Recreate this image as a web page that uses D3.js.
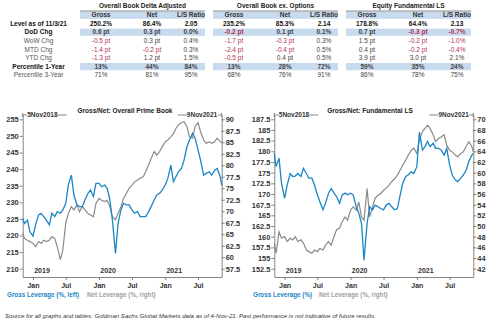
<!DOCTYPE html>
<html>
<head>
<meta charset="utf-8">
<script src="https://cdn.jsdelivr.net/npm/d3@7"></script>
<style>
body { margin: 0; background: #fff; }
svg { font-family: "Liberation Sans", Arial, sans-serif; }
</style>
</head>
<body>
<script>
// ---- table data ----
let groupTitles = ["Overall Book Delta Adjusted", "Overall Book ex. Options", "Equity Fundamental LS"];
let colHeads = ["Gross", "Net", "L/S Ratio"];
let rowLabels = ["Level as of 11/3/21", "DoD Chg", "WoW Chg", "MTD Chg", "YTD Chg", "Percentile 1-Year", "Percentile 3-Year"];

let deltaGross = ["250.2%", "0.6 pt", "-0.5 pt", "-1.4 pt", "-1.3 pt", "13%", "71%"];
let deltaNet   = ["86.4%", "0.3 pt", "0.3 pt", "-0.2 pt", "1.2 pt", "44%", "81%"];
let deltaLS    = ["2.05", "0.0%", "0.4%", "0.3%", "1.5%", "84%", "95%"];
let exOptGross = ["235.2%", "-0.2 pt", "-1.7 pt", "-2.4 pt", "-0.5 pt", "13%", "68%"];
let exOptNet   = ["85.3%", "0.1 pt", "-0.3 pt", "-0.4 pt", "0.4 pt", "28%", "76%"];
let exOptLS    = ["2.14", "0.1%", "0.3%", "0.5%", "0.5%", "72%", "91%"];
let fundGross  = ["178.8%", "0.7 pt", "1.5 pt", "0.4 pt", "3.9 pt", "59%", "86%"];
let fundNet    = ["64.4%", "-0.3 pt", "-0.2 pt", "-0.2 pt", "3.0 pt", "35%", "78%"];
let fundLS     = ["2.13", "-0.7%", "-1.0%", "-0.4%", "2.1%", "24%", "75%"];

// ---- chart data (semi-monthly readings) ----
let dates = [
  "2018-11-05","2018-11-15","2018-12-01","2018-12-15",
  "2019-01-01","2019-01-15","2019-02-01","2019-02-15","2019-03-01","2019-03-15","2019-04-01","2019-04-15",
  "2019-05-01","2019-05-15","2019-06-01","2019-06-15","2019-07-01","2019-07-15","2019-08-01","2019-08-15",
  "2019-09-01","2019-09-15","2019-10-01","2019-10-15","2019-11-01","2019-11-15","2019-12-01","2019-12-15",
  "2020-01-01","2020-01-15","2020-02-01","2020-02-15","2020-03-01","2020-03-15","2020-04-01","2020-04-15",
  "2020-05-01","2020-05-15","2020-06-01","2020-06-15","2020-07-01","2020-07-15","2020-08-01","2020-08-15",
  "2020-09-01","2020-09-15","2020-10-01","2020-10-15","2020-11-01","2020-11-15","2020-12-01","2020-12-15",
  "2021-01-01","2021-01-15","2021-02-01","2021-02-15","2021-03-01","2021-03-15","2021-04-01","2021-04-15",
  "2021-05-01","2021-05-15","2021-06-01","2021-06-15","2021-07-01","2021-07-15","2021-08-01","2021-08-15",
  "2021-09-01","2021-09-15","2021-10-01","2021-10-15","2021-11-01","2021-11-09"
];

let primeGross = [
  225.1,223.6,224.6,221.1,219.8,223.2,226.2,226.7,225.7,224.7,
  223.2,226.7,225.7,227.2,226.7,227.7,229.7,235.2,238.2,232.2,
  229.2,228.7,228.7,230.7,232.7,233.7,231.7,235.7,235.7,234.7,
  235.2,234.2,230.7,224.6,214.6,223.6,227.7,229.7,229.2,229.2,
  227.7,226.7,227.2,225.7,225.7,225.7,227.2,228.7,230.7,232.2,
  232.7,233.7,235.2,237.2,241.2,236.2,237.7,239.2,240.2,242.7,
  246.8,248.8,250.8,249.3,245.8,242.7,238.2,238.7,239.2,238.2,
  239.7,240.2,237.7,235.2
];
let primeNet = [
  65.2,64.1,63.7,63.4,63.0,62.3,63.4,63.0,63.7,63.4,
  63.7,64.5,64.1,62.3,59.5,61.6,67.4,69.5,71.0,70.3,
  71.4,69.9,71.0,70.3,69.5,69.2,68.8,71.7,72.8,72.4,
  72.1,72.4,71.0,68.8,68.1,69.5,71.0,72.8,73.9,75.0,
  75.7,76.4,76.8,77.2,77.5,78.6,80.1,81.5,83.0,82.2,
  83.0,84.0,85.1,85.5,86.2,86.9,88.0,88.8,89.3,89.5,
  88.4,86.2,85.9,88.4,89.3,87.3,85.5,84.8,85.1,84.8,
  85.1,85.9,85.1,85.0
];
let fundLSGross = [
  179.5,176.4,178.4,172.5,169.0,172.1,174.8,174.1,174.2,174.8,
  174.1,176.0,174.8,173.7,173.7,172.1,169.8,168.2,166.3,167.8,
  170.2,171.3,170.2,169.4,167.8,169.8,170.2,169.8,170.2,169.8,
  167.0,165.5,163.1,154.5,163.1,167.0,166.3,167.4,167.0,166.6,
  166.3,167.4,167.8,167.0,166.3,166.6,169.8,172.5,174.1,174.5,
  175.2,174.8,176.4,184.5,180.3,181.1,182.3,181.1,181.9,180.7,
  180.7,180.3,179.1,180.7,176.8,174.5,173.3,172.9,173.7,174.5,
  175.6,177.6,179.1,179.5
];
let fundLSNet = [
  46.8,44.9,48.9,47.7,48.0,47.1,47.7,47.4,48.0,47.1,
  47.4,46.8,45.5,45.2,44.9,45.5,45.2,45.8,45.5,46.4,
  47.1,46.4,48.0,49.3,49.6,50.8,51.7,51.1,53.0,53.6,
  53.0,54.5,51.7,51.1,57.0,51.7,53.6,55.2,55.8,56.1,
  56.7,57.1,57.7,58.3,58.9,59.5,60.5,61.4,62.4,63.3,
  64.2,64.6,63.6,66.1,67.7,68.3,68.9,68.3,67.1,65.8,
  66.4,66.7,67.1,65.2,64.2,63.9,63.3,63.0,63.6,63.9,
  64.9,65.8,64.9,63.9
];

let primeLeftTicks  = [210, 215, 220, 225, 230, 235, 240, 245, 250, 255];
let primeRightTicks = [57.5, 60, 62.5, 65, 67.5, 70, 72.5, 75, 77.5, 80, 82.5, 85, 87.5, 90];
let fundLeftTicks   = [152.5, 155, 157.5, 160, 162.5, 165, 167.5, 170, 172.5, 175, 177.5, 180, 182.5, 185, 187.5];
let fundRightTicks  = [42, 44, 46, 48, 50, 52, 54, 56, 58, 60, 62, 64, 66, 68, 70];
let monthTicks = ["2019-01-01", "2019-07-01", "2020-01-01", "2020-07-01", "2021-01-01", "2021-07-01"];
let yearLabels = ["2019", "2020", "2021"];
let rangeStart = "2018-11-05", rangeEnd = "2021-11-09";

let blue = "#1a86c5", grey = "#8a8a8a", red = "#b2334f", band = "#c8daee";

let svg = d3.select('body').append('svg')
    .attr('width', 500)
    .attr('height', 324);

// ---------- table ----------
let groups = [
    [deltaGross, deltaNet, deltaLS],
    [exOptGross, exOptNet, exOptLS],
    [fundGross, fundNet, fundLS]
];
let groupX = [101, 234, 367],
    colOff = [0, 51, 90],
    rowY = i => 23.6 + i * 8.6,
    boldRows = [0, 1, 5],
    bandRows = [1, 5];

groups.forEach((cols, gi) => {
    let gx = groupX[gi];
    let tg = svg.append('g');
    tg.append('rect').attr('x', gx - 21).attr('y', 11.5).attr('width', 125).attr('height', 7.3).attr('fill', band);
    bandRows.forEach(r => {
        tg.append('rect').attr('x', gx - 21).attr('y', rowY(r) - 3.6).attr('width', 125).attr('height', 7.2).attr('fill', band);
    });
    tg.append('line').attr('x1', gx - 21).attr('x2', gx + 104).attr('y1', 11).attr('y2', 11)
        .attr('stroke', '#444').attr('stroke-width', 0.6);
    tg.append('text').attr('x', gx + 41.5).attr('y', 5.5).attr('dy', '0.35em')
        .attr('text-anchor', 'middle').attr('font-size', 6.5).attr('font-weight', 'bold')
        .attr('fill', '#222').text(groupTitles[gi]);
    colHeads.forEach((h, ci) => {
        tg.append('text').attr('x', gx + colOff[ci]).attr('y', 15.2).attr('dy', '0.35em')
            .attr('text-anchor', 'middle').attr('font-size', 6.5).attr('font-weight', 'bold')
            .attr('fill', '#333').text(h);
    });
    cols.forEach((vals, ci) => {
        tg.selectAll(null).data(vals).enter().append('text')
            .attr('x', gx + colOff[ci])
            .attr('y', (d, i) => rowY(i))
            .attr('dy', '0.35em')
            .attr('text-anchor', 'middle')
            .attr('font-size', 6.5)
            .attr('font-weight', (d, i) => boldRows.includes(i) ? 'bold' : 'normal')
            .attr('fill', d => d.startsWith('-') ? red : (d === vals[0] ? '#111' : '#444'))
            .text(d => d);
    });
});

svg.append('g').selectAll('text').data(rowLabels).enter().append('text')
    .attr('x', 38.5)
    .attr('y', (d, i) => rowY(i))
    .attr('dy', '0.35em')
    .attr('text-anchor', 'middle')
    .attr('font-size', 6.5)
    .attr('font-weight', (d, i) => boldRows.includes(i) ? 'bold' : 'normal')
    .attr('fill', (d, i) => boldRows.includes(i) ? '#111' : '#555')
    .text(d => d);

// ---------- charts ----------
let parse = d3.timeParse('%Y-%m-%d');

function drawChart(c) {
    let top = 115, bottom = 277;
    let g = svg.append('g');

    let x = d3.scaleTime().domain([parse(rangeStart), parse(rangeEnd)]).range([c.x0, c.x1]);
    let yL = d3.scaleLinear().domain(c.leftDomain).range([bottom, top]);
    let yR = d3.scaleLinear().domain(c.rightDomain).range([bottom, top]);

    let leftAxis = g.append('g').attr('transform', `translate(${c.x0},0)`)
        .call(d3.axisLeft(yL).tickValues(c.leftTicks).tickSize(3).tickSizeOuter(0).tickPadding(1).tickFormat(d => d));
    let rightAxis = g.append('g').attr('transform', `translate(${c.x1},0)`)
        .call(d3.axisRight(yR).tickValues(c.rightTicks).tickSize(3).tickSizeOuter(0).tickPadding(1).tickFormat(d => d));
    let bottomAxis = g.append('g').attr('transform', `translate(0,${bottom})`)
        .call(d3.axisBottom(x).tickValues(monthTicks.map(parse)).tickSize(3).tickSizeOuter(0).tickPadding(3)
            .tickFormat(d3.timeFormat('%b')));

    [leftAxis, rightAxis, bottomAxis].forEach(a => {
        a.selectAll('path, line').attr('stroke', '#666').attr('stroke-width', 0.8);
        a.selectAll('text').attr('font-family', '"Liberation Sans", Arial, sans-serif')
            .attr('font-size', 7.4).attr('font-weight', 'bold').attr('fill', '#333');
    });
    bottomAxis.selectAll('text').attr('font-size', 7);

    // year labels inside the plot
    g.selectAll('.yr').data(yearLabels).enter().append('text')
        .attr('x', d => x(parse(d + '-01-01')) + 9)
        .attr('y', bottom - 4)
        .attr('text-anchor', 'middle')
        .attr('font-size', 7).attr('font-weight', 'bold').attr('fill', '#333')
        .text(d => d);

    let pts = dates.map(parse);
    let lineL = d3.line().x((d, i) => x(pts[i])).y(d => yL(d));
    let lineR = d3.line().x((d, i) => x(pts[i])).y(d => yR(d));

    g.append('path').datum(c.net).attr('d', lineR)
        .attr('fill', 'none').attr('stroke', grey).attr('stroke-width', 1.2);
    g.append('path').datum(c.gross).attr('d', lineL)
        .attr('fill', 'none').attr('stroke', blue).attr('stroke-width', 1.3);

    // date range marker on the top edge
    let fmt = d3.timeFormat('%-d%b%Y');
    let mk = g.append('g').attr('stroke', '#555').attr('stroke-width', 0.7);
    mk.append('line').attr('x1', c.x0).attr('x2', c.x0).attr('y1', top - 2).attr('y2', top + 2);
    mk.append('line').attr('x1', c.x0).attr('x2', c.x0 + 4).attr('y1', top).attr('y2', top);
    mk.append('line').attr('x1', c.x0 + 35).attr('x2', c.x0 + 44).attr('y1', top).attr('y2', top);
    mk.append('line').attr('x1', c.x1).attr('x2', c.x1).attr('y1', top - 2).attr('y2', top + 2);
    mk.append('line').attr('x1', c.x1 - 4).attr('x2', c.x1).attr('y1', top).attr('y2', top);
    mk.append('line').attr('x1', c.x1 - 44).attr('x2', c.x1 - 35).attr('y1', top).attr('y2', top);
    g.append('text').attr('x', c.x0 + 4.5).attr('y', top).attr('dy', '0.35em')
        .attr('font-size', 6.5).attr('font-weight', 'bold').attr('fill', '#333')
        .text(fmt(parse(rangeStart)));
    g.append('text').attr('x', c.x1 - 4.5).attr('y', top).attr('dy', '0.35em').attr('text-anchor', 'end')
        .attr('font-size', 6.5).attr('font-weight', 'bold').attr('fill', '#333')
        .text(fmt(parse(rangeEnd)));

    g.append('text').attr('x', c.titleX).attr('y', 110.5).attr('dy', '0.35em').attr('text-anchor', 'middle')
        .attr('font-size', 6.5).attr('font-weight', 'bold').attr('fill', '#222')
        .text(c.title);

    // legend
    g.append('text').attr('x', c.legX[0]).attr('y', 295).attr('dy', '0.35em')
        .attr('font-size', 6.3).attr('font-weight', 'bold').attr('fill', blue).text(c.legend[0]);
    g.append('text').attr('x', c.legX[1]).attr('y', 295).attr('dy', '0.35em')
        .attr('font-size', 6.3).attr('font-weight', 'bold').attr('fill', '#a0a0a0').text(c.legend[1]);
}

drawChart({
    x0: 22.7, x1: 221.7,
    leftDomain: [207.5, 256.3], rightDomain: [55.7, 90.94],
    leftTicks: primeLeftTicks, rightTicks: primeRightTicks,
    gross: primeGross, net: primeNet,
    title: 'Gross/Net: Overall Prime Book', titleX: 125,
    legend: ['Gross Leverage (%, left)', 'Net Leverage (%, right)'], legX: [7, 87]
});

drawChart({
    x0: 274.3, x1: 473.3,
    leftDomain: [150.56, 188.5], rightDomain: [40.44, 70.81],
    leftTicks: fundLeftTicks, rightTicks: fundRightTicks,
    gross: fundLSGross, net: fundLSNet,
    title: 'Gross/Net: Fundamental LS', titleX: 370,
    legend: ['Gross Leverage (%)', 'Net Leverage (%, right)'], legX: [253, 319]
});

svg.append('text').attr('x', 5).attr('y', 318)
    .attr('font-size', 6.1).attr('font-style', 'italic').attr('fill', '#333')
    .text('Source for all graphs and tables: Goldman Sachs Global Markets data as of 4-Nov-21. Past performance is not indicative of future results.');
</script>
</body>
</html>
